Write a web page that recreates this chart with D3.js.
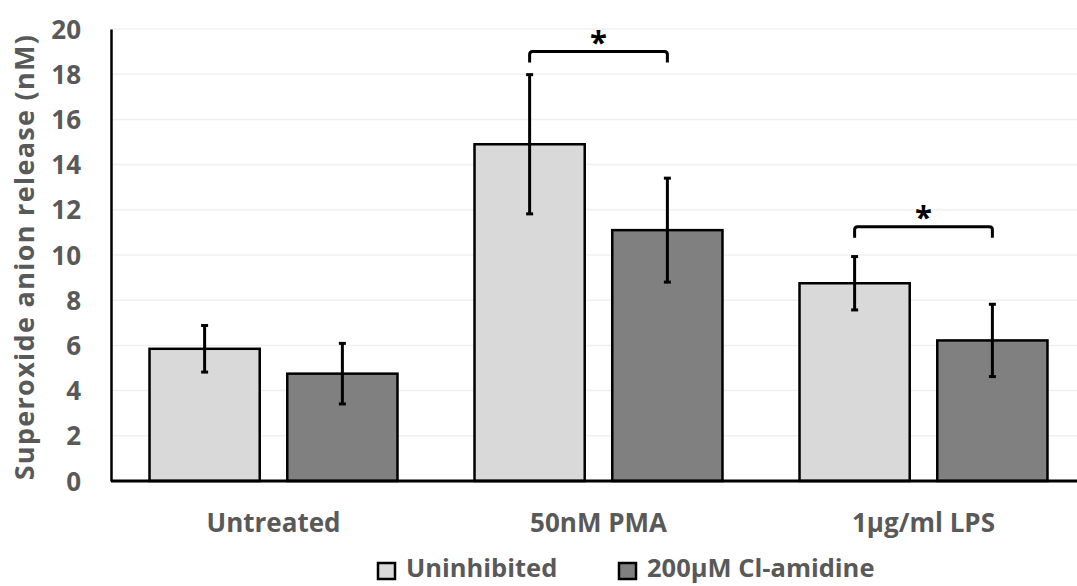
<!DOCTYPE html>
<html>
<head>
<meta charset="utf-8">
<script src="https://cdn.jsdelivr.net/npm/d3@7"></script>
<style>
  body { margin: 0; background: #fff; }
  text { font-family: "Open Sans", sans-serif; font-weight: bold; }
</style>
</head>
<body>
<div id="chart"></div>
<script>
// data
var categories = ["Untreated", "50nM PMA", "1µg/ml LPS"];
var seriesNames = ["Uninhibited", "200µM Cl-amidine"];
var uninhibited = [5.85, 14.9, 8.75];
var uninhibitedErr = [1.03, 3.08, 1.18];
var clAmidine = [4.75, 11.1, 6.22];
var clAmidineErr = [1.34, 2.3, 1.6];
var yTicks = [0, 2, 4, 6, 8, 10, 12, 14, 16, 18, 20];
// significance brackets: category index and height (value)
var sigCats = [1, 2];
var sigLevels = [19.0, 11.25];

var w = 1077;
var h = 586;
var colors = ["#d9d9d9", "#808080"];

var dataset = categories.map(function(c, i) {
    return {
        cat: c,
        bars: [
            { key: seriesNames[0], value: uninhibited[i], err: uninhibitedErr[i] },
            { key: seriesNames[1], value: clAmidine[i], err: clAmidineErr[i] }
        ]
    };
});

var svg = d3.select("#chart").append("svg").attr("width", w).attr("height", h);

var yScale = d3.scaleLinear().domain([0, 20]).range([481, 29]);
// plot area runs past the right edge of the picture
var x0 = d3.scaleBand().domain(categories).range([111, 1086]).paddingInner(0.237).paddingOuter(0.1185);
var x1 = d3.scaleBand().domain(seriesNames).range([0, x0.bandwidth()]).paddingInner(0.2);

// gridlines
svg.append("g").selectAll("line")
    .data(yTicks.slice(1))
    .enter()
    .append("line")
    .attr("x1", 111).attr("x2", w)
    .attr("y1", function(d) { return yScale(d); })
    .attr("y2", function(d) { return yScale(d); })
    .attr("stroke", "#f0f0f0")
    .attr("stroke-width", 1.5);

// y axis
var yAxis = d3.axisLeft(yScale).tickValues(yTicks).tickSize(0).tickPadding(30);
var gy = svg.append("g").attr("transform", "translate(111,0)").call(yAxis);
gy.select(".domain").attr("stroke", "#000").attr("stroke-width", 2.5);
gy.selectAll("text").style("font-size", "26px").style("fill", "#595959").attr("dy", "0.35em");

// bars
var groups = svg.selectAll(".group")
    .data(dataset)
    .enter()
    .append("g")
    .attr("class", "group")
    .attr("transform", function(d) { return "translate(" + x0(d.cat) + ",0)"; });

groups.selectAll("rect")
    .data(function(d) { return d.bars; })
    .enter()
    .append("rect")
    .attr("x", function(d) { return x1(d.key); })
    .attr("y", function(d) { return yScale(d.value); })
    .attr("width", x1.bandwidth())
    .attr("height", function(d) { return yScale(0) - yScale(d.value); })
    .attr("fill", function(d, i) { return colors[i]; })
    .attr("stroke", "#000")
    .attr("stroke-width", 2.5);

// error bars
var errs = groups.selectAll(".err")
    .data(function(d) { return d.bars; })
    .enter()
    .append("g")
    .attr("class", "err")
    .attr("stroke", "#000")
    .attr("stroke-width", 3);
errs.append("line")
    .attr("x1", function(d) { return x1(d.key) + x1.bandwidth() / 2; })
    .attr("x2", function(d) { return x1(d.key) + x1.bandwidth() / 2; })
    .attr("y1", function(d) { return yScale(d.value + d.err); })
    .attr("y2", function(d) { return yScale(d.value - d.err); });
errs.selectAll(".cap")
    .data(function(d) { return [d, d]; })
    .enter()
    .append("line")
    .attr("x1", function(d) { return x1(d.key) + x1.bandwidth() / 2 - 3.5; })
    .attr("x2", function(d) { return x1(d.key) + x1.bandwidth() / 2 + 3.5; })
    .attr("y1", function(d, i) { return yScale(i == 0 ? d.value + d.err : d.value - d.err); })
    .attr("y2", function(d, i) { return yScale(i == 0 ? d.value + d.err : d.value - d.err); });

// x axis line
svg.append("line")
    .attr("x1", 111).attr("x2", w)
    .attr("y1", yScale(0)).attr("y2", yScale(0))
    .attr("stroke", "#000").attr("stroke-width", 3);

// category labels
svg.selectAll(".catLabel")
    .data(categories)
    .enter()
    .append("text")
    .attr("class", "catLabel")
    .attr("x", function(d) { return x0(d) + x0.bandwidth() / 2; })
    .attr("y", 532)
    .attr("text-anchor", "middle")
    .style("font-size", "26px")
    .style("fill", "#595959")
    .text(function(d) { return d; });

// significance brackets
var sig = svg.selectAll(".sig")
    .data(sigCats)
    .enter()
    .append("g")
    .attr("class", "sig");
sig.append("path")
    .attr("d", function(c, i) {
        var xa = x0(categories[c]) + x1(seriesNames[0]) + x1.bandwidth() / 2;
        var xb = x0(categories[c]) + x1(seriesNames[1]) + x1.bandwidth() / 2;
        var yy = yScale(sigLevels[i]);
        var r = 3;
        return "M" + xa + "," + (yy + 11) + " V" + (yy + r) +
            " Q" + xa + "," + yy + " " + (xa + r) + "," + yy +
            " H" + (xb - r) +
            " Q" + xb + "," + yy + " " + xb + "," + (yy + r) +
            " V" + (yy + 11);
    })
    .attr("fill", "none")
    .attr("stroke", "#000")
    .attr("stroke-width", 3);
sig.append("text")
    .attr("x", function(c) { return x0(categories[c]) + x0.bandwidth() / 2; })
    .attr("y", function(c, i) { return yScale(sigLevels[i]) + 1; })
    .attr("text-anchor", "middle")
    .style("font-size", "31px")
    .style("fill", "#000")
    .text("*");

// y axis title
svg.append("text")
    .attr("transform", "translate(34," + 257 + ") rotate(-90)")
    .attr("text-anchor", "middle")
    .style("font-size", "27px")
    .style("letter-spacing", "1.3px")
    .style("fill", "#595959")
    .text("Superoxide anion release (nM)");

// legend
var legendX = [378, 619];
var legend = svg.selectAll(".legend")
    .data(seriesNames)
    .enter()
    .append("g")
    .attr("class", "legend")
    .attr("transform", function(d, i) { return "translate(" + legendX[i] + ",563)"; });
legend.append("rect")
    .attr("width", 17).attr("height", 16)
    .attr("fill", function(d, i) { return colors[i]; })
    .attr("stroke", "#000")
    .attr("stroke-width", 2.5);
legend.append("text")
    .attr("x", 28)
    .attr("y", 14)
    .style("font-size", "25.5px")
    .style("fill", "#595959")
    .text(function(d) { return d; });
</script>
</body>
</html>
